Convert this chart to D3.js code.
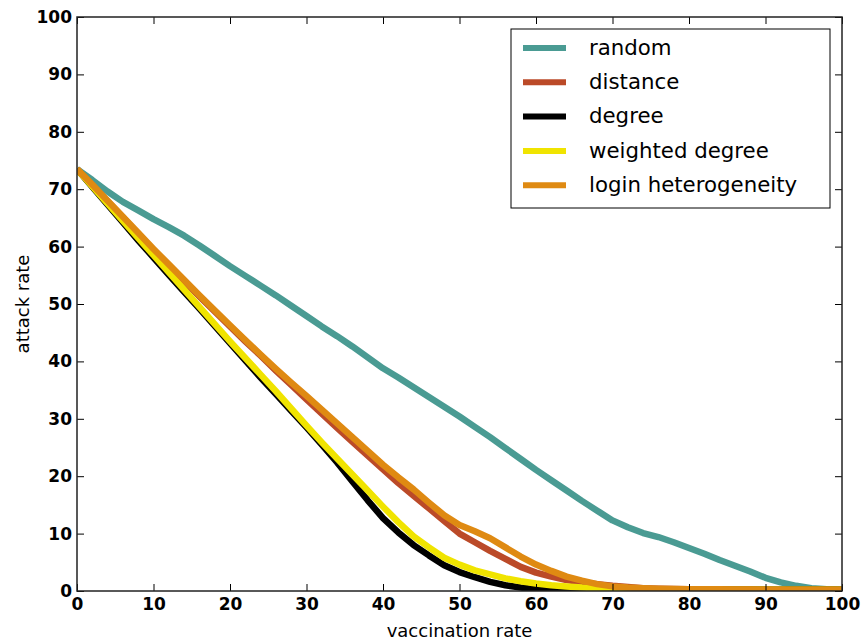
<!DOCTYPE html>
<html>
<head>
<meta charset="utf-8">
<script src="https://cdn.jsdelivr.net/npm/d3@7"></script>
<style>
  html, body { margin: 0; padding: 0; background: #fff; }
  svg { display: block; }
</style>
</head>
<body>
<svg id="chart" width="863" height="640"></svg>
<script>
// ---- data ----
const vaccination = [0,2,4,6,8,10,12,14,16,18,20,22,24,26,28,30,32,34,36,38,40,42,44,46,48,50,52,54,56,58,60,62,64,66,68,70,72,74,76,78,80,82,84,86,88,90,92,94,96,98,100];

const randomRate = [73.5,71.6,69.6,67.8,66.3,64.8,63.4,61.9,60.2,58.4,56.6,54.9,53.2,51.5,49.7,47.9,46.1,44.4,42.6,40.7,38.8,37.2,35.5,33.8,32.1,30.4,28.6,26.8,24.9,23,21.1,19.3,17.5,15.7,14,12.3,11.1,10.1,9.4,8.5,7.5,6.5,5.4,4.4,3.4,2.3,1.5,0.9,0.5,0.3,0.2];

const distanceRate = [73.5,70.7,67.9,65.1,62.2,59.4,56.7,54,51.3,48.7,46.1,43.5,41,38.4,35.9,33.4,30.9,28.4,26,23.6,21.2,18.8,16.6,14.4,12.2,10,8.5,7,5.6,4.2,3.2,2.5,1.9,1.5,1.2,0.9,0.7,0.5,0.4,0.35,0.3,0.3,0.3,0.25,0.25,0.2,0.2,0.2,0.2,0.2,0.2];

const degreeRate = [73.5,70.4,67.3,64.2,61.1,58.1,55.1,52.1,49.2,46.2,43.2,40.2,37.2,34.3,31.4,28.5,25.5,22.4,19.1,15.8,12.7,10.2,8,6.2,4.5,3.3,2.4,1.6,1,0.6,0.3,0.2,0.2,0.2,0.2,0.2,0.2,0.2,0.2,0.2,0.2,0.2,0.2,0.2,0.2,0.2,0.2,0.2,0.2,0.2,0.2];

const weightedDegreeRate = [73.5,70.5,67.5,64.5,61.5,58.5,55.5,52.5,49.5,46.5,43.5,40.6,37.7,34.8,31.8,28.8,25.9,23.1,20.3,17.5,14.7,12,9.5,7.6,5.8,4.6,3.6,2.9,2.2,1.7,1.3,1,0.8,0.6,0.5,0.4,0.3,0.3,0.25,0.25,0.2,0.2,0.2,0.2,0.2,0.2,0.2,0.2,0.2,0.2,0.2];

const loginRate = [73.5,70.8,68,65.2,62.4,59.6,56.9,54.2,51.5,48.9,46.3,43.7,41.2,38.7,36.3,34,31.6,29.2,26.8,24.4,22,19.8,17.7,15.4,13.2,11.5,10.4,9.2,7.6,6,4.6,3.5,2.5,1.8,1.2,0.8,0.6,0.5,0.4,0.35,0.3,0.3,0.3,0.25,0.25,0.2,0.2,0.2,0.2,0.2,0.2];

const seriesNames = ["random", "distance", "degree", "weighted degree", "login heterogeneity"];
const seriesValues = [randomRate, distanceRate, degreeRate, weightedDegreeRate, loginRate];
const seriesColors = ["#4a9b93", "#bb4a28", "#000000", "#f0e400", "#df8a12"];

const xTicks = [0,10,20,30,40,50,60,70,80,90,100];
const yTicks = [0,10,20,30,40,50,60,70,80,90,100];
const xTitle = "vaccination rate";
const yTitle = "attack rate";

// ---- layout ----
const svg = d3.select("#chart");
const L = 77, R = 842, T = 17, B = 591;

const x = d3.scaleLinear().domain([0, 100]).range([L, R]);
const y = d3.scaleLinear().domain([0, 100]).range([B, T]);

svg.append("defs").append("clipPath").attr("id", "clip")
  .append("rect").attr("x", L).attr("y", T - 4).attr("width", R - L).attr("height", B - T + 4);

// lines
const line = d3.line().x(d => x(d[0])).y(d => y(d[1]));
const g = svg.append("g").attr("clip-path", "url(#clip)");
seriesValues.forEach((vals, i) => {
  const pts = vaccination.map((v, j) => [v, vals[j]]);
  g.append("path")
    .datum(pts)
    .attr("d", line)
    .attr("fill", "none")
    .attr("stroke", seriesColors[i])
    .attr("stroke-width", 6.5)
    .attr("stroke-linejoin", "round")
    .attr("stroke-linecap", "butt");
});

// axes (ticks inward on all four sides)
const tickFont = "DejaVu Sans, sans-serif";
function styleAxis(sel) {
  sel.select(".domain").remove();
  sel.selectAll(".tick line").attr("stroke", "#000").attr("stroke-width", 1);
  sel.selectAll(".tick text").attr("font-family", tickFont).attr("font-size", 17)
     .attr("font-weight", "bold").attr("fill", "#000");
}
const xBottom = svg.append("g").attr("transform", `translate(0,${B})`)
  .call(d3.axisBottom(x).tickValues(xTicks).tickFormat(d3.format("d")).tickSizeInner(-7).tickPadding(7));
styleAxis(xBottom);
const xTop = svg.append("g").attr("transform", `translate(0,${T})`)
  .call(d3.axisTop(x).tickValues(xTicks).tickFormat("").tickSizeInner(-7));
styleAxis(xTop);
const yLeft = svg.append("g").attr("transform", `translate(${L},0)`)
  .call(d3.axisLeft(y).tickValues(yTicks).tickFormat(d3.format("d")).tickSizeInner(-7).tickPadding(5));
styleAxis(yLeft);
const yRight = svg.append("g").attr("transform", `translate(${R},0)`)
  .call(d3.axisRight(y).tickValues(yTicks).tickFormat("").tickSizeInner(-7));
styleAxis(yRight);

// frame
svg.append("rect").attr("x", L).attr("y", T).attr("width", R - L).attr("height", B - T)
  .attr("fill", "none").attr("stroke", "#222").attr("stroke-width", 1.5);

// axis titles
svg.append("text").attr("x", (L + R) / 2).attr("y", 637).attr("text-anchor", "middle")
  .attr("font-family", tickFont).attr("font-size", 18).attr("fill", "#000").text(xTitle);
svg.append("text").attr("transform", `translate(29,${(T + B) / 2}) rotate(-90)`)
  .attr("text-anchor", "middle").attr("font-family", tickFont).attr("font-size", 18)
  .attr("fill", "#000").text(yTitle);

// legend
const lg = svg.append("g");
lg.append("rect").attr("x", 511).attr("y", 29).attr("width", 319).attr("height", 179)
  .attr("fill", "#fff").attr("stroke", "#000").attr("stroke-width", 1);
seriesNames.forEach((name, i) => {
  const yy = 48 + i * 34.3;
  lg.append("line").attr("x1", 523).attr("x2", 566).attr("y1", yy).attr("y2", yy)
    .attr("stroke", seriesColors[i]).attr("stroke-width", 6);
  lg.append("text").attr("x", 589).attr("y", yy).attr("dy", "0.32em")
    .attr("font-family", tickFont).attr("font-size", 21.3).attr("fill", "#000").text(name);
});
</script>
</body>
</html>
